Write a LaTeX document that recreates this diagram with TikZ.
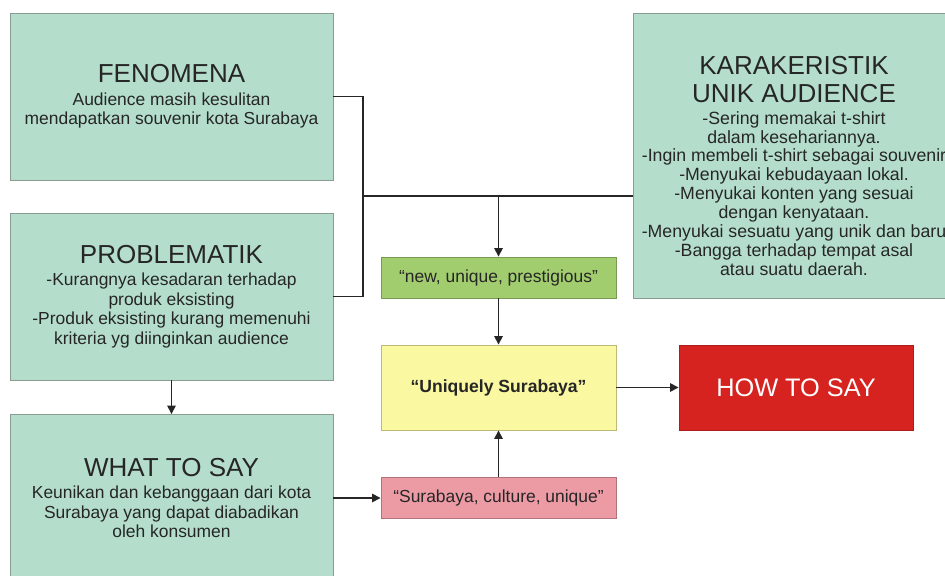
\documentclass[tikz,border=0pt]{standalone}
\usepackage{fontspec}
\setmainfont{Liberation Sans}
\usetikzlibrary{arrows.meta}

\definecolor{mint}{HTML}{B4DECB}
\definecolor{mintline}{HTML}{8A9C92}
\definecolor{leaf}{HTML}{A2CD6E}
\definecolor{lemon}{HTML}{FAF8A0}
\definecolor{rose}{HTML}{EC9BA5}
\definecolor{brick}{HTML}{D72320}
\definecolor{ink}{HTML}{262626}

\newcommand{\boxtitle}[1]{{\fontsize{18.5}{18}\selectfont #1}}

\begin{document}
\begin{tikzpicture}[x=0.025cm, y=-0.025cm,
    box/.style={draw=mintline, fill=mint, line width=0.6pt, text=ink, align=center,
      font=\fontsize{12.4}{13.8}\selectfont, inner sep=0pt,
      minimum width=8.075cm, minimum height=4.175cm},
    tag/.style={draw=#1!75!black, fill=#1, line width=0.6pt, text=ink, inner sep=0pt,
      font=\fontsize{12.4}{14}\selectfont, minimum width=5.875cm},
    link/.style={draw=ink, line width=1.1pt},
    >={Triangle[length=6pt,width=6pt]}]
    \clip (0,0) rectangle (945,576);

    % left column
    \node[box] (fenomena) at (171.5,96.5) {\boxtitle{FENOMENA}\\[2.2pt]
      Audience masih kesulitan\\ mendapatkan souvenir kota Surabaya};
    \node[box] (problematik) at (171.5,296.5) {\boxtitle{PROBLEMATIK}\\[2.2pt]
      -Kurangnya kesadaran terhadap\\ produk eksisting\\
      -Produk eksisting kurang memenuhi\\ kriteria yg diinginkan audience};
    \node[box] (whatsay) at (171.5,498) {\boxtitle{WHAT TO SAY}\\[2.2pt]
      Keunikan dan kebanggaan dari kota\\ Surabaya yang dapat diabadikan\\ oleh konsumen};

    % audience box, text sits a bit low
    \node[box, minimum width=8.05cm, minimum height=7.125cm] (karak) at (794,155.5) {};
    \node[text=ink, align=center, inner sep=0pt, font=\fontsize{12.6}{13.5}\selectfont]
      (karaktext) at (794,166) {\boxtitle{KARAKERISTIK}\\[6.4pt]
      \boxtitle{UNIK AUDIENCE}\\[2.1pt]
      -Sering memakai t-shirt\\ dalam kesehariannya.\\
      -Ingin membeli t-shirt sebagai souvenir\\ -Menyukai kebudayaan lokal.\\
      -Menyukai konten yang sesuai\\ dengan kenyataan.\\
      -Menyukai sesuatu yang unik dan baru\\ -Bangga terhadap tempat asal\\
      atau suatu daerah.};

    % middle column
    \node[tag=leaf, minimum height=1.025cm] (newbox) at (498.5,277.5) {“new, unique, prestigious”};
    \node[tag=lemon, minimum height=2.125cm, font=\fontsize{12.5}{14}\selectfont\bfseries]
      (uniq) at (498.5,387.5) {“Uniquely Surabaya”};
    \node[tag=rose, minimum height=1.025cm] (culture) at (498.5,498) {“Surabaya, culture, unique”};
    \node[fill=brick, draw=brick!80!black, line width=0.6pt, text=white, inner sep=0pt,
      minimum width=5.85cm, minimum height=2.125cm, font=\fontsize{18}{18}\selectfont]
      (howsay) at (796,387.5) {HOW TO SAY};

    % connectors
    \coordinate (split) at (363,196);
    \draw[link] (fenomena.east) -| (split) |- (problematik.east);
    \draw[link] (split) -- (split -| karak.west);
    \draw[link,->] (split -| newbox.north) -- (newbox.north);
    \foreach \a/\b in {newbox/uniq, problematik/whatsay, whatsay/culture, culture/uniq, uniq/howsay}
      \draw[link,->] (\a) -- (\b);
  \end{tikzpicture}
\end{document}
